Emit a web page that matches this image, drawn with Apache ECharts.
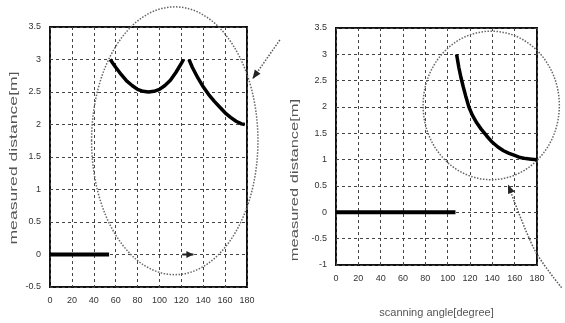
<!DOCTYPE html>
<html>
<head>
<meta charset="utf-8">
<script src="https://cdn.jsdelivr.net/npm/echarts@6/dist/echarts.min.js"></script>
<style>
  html, body { margin: 0; padding: 0; background: #fff; }
  #chart { width: 565px; height: 323px; }
</style>
</head>
<body>
<div id="chart"></div>
<script>
// left panel: measured distance vs scanning angle
var leftFlat = [[0, 0], [54, 0]];
var leftBowl = [[55, 3.0], [60, 2.88], [65, 2.77], [70, 2.67], [75, 2.6], [80, 2.54], [85, 2.51],
  [90, 2.5], [95, 2.51], [100, 2.54], [105, 2.6], [110, 2.68], [115, 2.8], [120, 2.94], [122, 3.0]];
var leftTail = [[127, 3.0], [130, 2.88], [135, 2.72], [140, 2.58], [145, 2.46], [150, 2.36], [155, 2.27],
  [160, 2.18], [165, 2.11], [170, 2.05], [175, 2.01], [178, 2.0]];

// right panel
var rightFlat = [[0, 0], [107, 0]];
var rightTail = [[108, 3.0], [110, 2.75], [112, 2.55], [114, 2.38], [116, 2.22], [119, 2.0], [122, 1.85],
  [126, 1.7], [130, 1.58], [135, 1.45], [140, 1.33], [145, 1.24], [150, 1.17], [155, 1.12], [160, 1.08],
  [165, 1.04], [170, 1.02], [175, 1.01], [180, 1.0]];

var xRange = [0, 180];
var xStep = 20;
var yStep = 0.5;
var leftYRange = [-0.5, 3.5];
var rightYRange = [-1, 3.5];

// dotted ovals and pointers, given in data units of each panel
var leftOval = {cx: 114, cy: 1.75, rx: 76, ry: 2.06};
var leftPointer = [[210, 3.3], [185, 2.7]];
var leftMarker = [[121, 0], [131, 0]];
var rightOval = {cx: 139, cy: 2.03, rx: 61, ry: 1.41};
var rightPointer = [[202, -1.43], [178, -0.72], [154, 0.53]];

var chart = echarts.init(document.getElementById('chart'));

function xAxisFor(grid, extra) {
  return Object.assign({
    type: 'value', gridIndex: grid, min: xRange[0], max: xRange[1], interval: xStep,
    axisLine: {show: false}, axisTick: {show: false},
    axisLabel: {fontSize: 9, color: '#333', margin: 9, fontFamily: 'Liberation Sans'},
    splitLine: {show: true, lineStyle: {color: '#444', type: [3, 3], width: 1}}
  }, extra || {});
}
function yAxisFor(grid, range, extra) {
  return Object.assign({
    type: 'value', gridIndex: grid, min: range[0], max: range[1], interval: yStep,
    axisLine: {show: false}, axisTick: {show: false},
    axisLabel: {fontSize: 9, color: '#333', margin: 9, fontFamily: 'Liberation Sans'},
    splitLine: {show: true, lineStyle: {color: '#444', type: [3, 3], width: 1}}
  }, extra || {});
}
function curve(data, xi, w) {
  return {
    type: 'line', xAxisIndex: xi, yAxisIndex: xi, data: data, showSymbol: false,
    lineStyle: {color: '#000', width: w}, silent: true, animation: false
  };
}

chart.setOption({
  animation: false,
  grid: [
    {left: 50, top: 27, width: 197, height: 260, show: true, borderColor: '#111', borderWidth: 2},
    {left: 336, top: 28, width: 201, height: 242, show: true, borderColor: '#111', borderWidth: 2}
  ],
  xAxis: [
    xAxisFor(0),
    xAxisFor(1, {name: 'scanning angle[degree]', nameLocation: 'middle', nameGap: 42,
      nameTextStyle: {fontSize: 11, color: '#555', fontFamily: 'Liberation Sans'}})
  ],
  yAxis: [
    yAxisFor(0, leftYRange),
    yAxisFor(1, rightYRange)
  ],
  series: [
    curve(leftFlat, 0, 4), curve(leftBowl, 0, 3.5), curve(leftTail, 0, 3.5),
    curve(rightFlat, 1, 4), curve(rightTail, 1, 3.5)
  ]
});

function px(g, p) { return chart.convertToPixel({gridIndex: g}, p); }
function arrowHead(tip, from, len, half) {
  var dx = tip[0] - from[0], dy = tip[1] - from[1];
  var d = Math.sqrt(dx * dx + dy * dy);
  var ux = dx / d, uy = dy / d;
  var bx = tip[0] - ux * len, by = tip[1] - uy * len;
  return [tip, [bx - uy * half, by + ux * half], [bx + uy * half, by - ux * half]];
}
function oval(g, o) {
  var c = px(g, [o.cx, o.cy]);
  var e = px(g, [o.cx + o.rx, o.cy + o.ry]);
  return {
    type: 'ellipse', silent: true,
    shape: {cx: c[0], cy: c[1], rx: Math.abs(e[0] - c[0]), ry: Math.abs(e[1] - c[1])},
    style: {fill: 'none', stroke: '#666', lineWidth: 1.5, lineDash: [1.5, 1.5]}
  };
}
var dotted = {stroke: '#555', lineWidth: 1.5, lineDash: [1.5, 1.5], fill: 'none'};

var lp = leftPointer.map(function (p) { return px(0, p); });
var lm = leftMarker.map(function (p) { return px(0, p); });
var rp = rightPointer.map(function (p) { return px(1, p); });

chart.setOption({
  graphic: [
    oval(0, leftOval),
    oval(1, rightOval),
    {type: 'polyline', silent: true, shape: {points: lp}, style: dotted},
    {type: 'polygon', silent: true, shape: {points: arrowHead(lp[1], lp[0], 9, 3.5)}, style: {fill: '#222'}},
    {type: 'polyline', silent: true, shape: {points: lm}, style: {stroke: '#222', lineWidth: 2}},
    {type: 'polygon', silent: true, shape: {points: arrowHead(lm[1], lm[0], 7, 3.5)}, style: {fill: '#222'}},
    {type: 'polyline', silent: true, shape: {points: rp, smooth: 0.3}, style: dotted},
    {type: 'polygon', silent: true, shape: {points: arrowHead(rp[2], rp[1], 9, 3.5)}, style: {fill: '#222'}},
    {type: 'text', silent: true, x: 14, y: 158, rotation: Math.PI / 2, scaleX: 1.6,
      style: {text: 'measured distance[m]', fontSize: 11, fill: '#555', fontFamily: 'Liberation Sans',
        align: 'center', verticalAlign: 'middle'}},
    {type: 'text', silent: true, x: 295, y: 180, rotation: Math.PI / 2, scaleX: 1.5,
      style: {text: 'measured distance[m]', fontSize: 11, fill: '#555', fontFamily: 'Liberation Sans',
        align: 'center', verticalAlign: 'middle'}}
  ]
});
</script>
</body>
</html>
